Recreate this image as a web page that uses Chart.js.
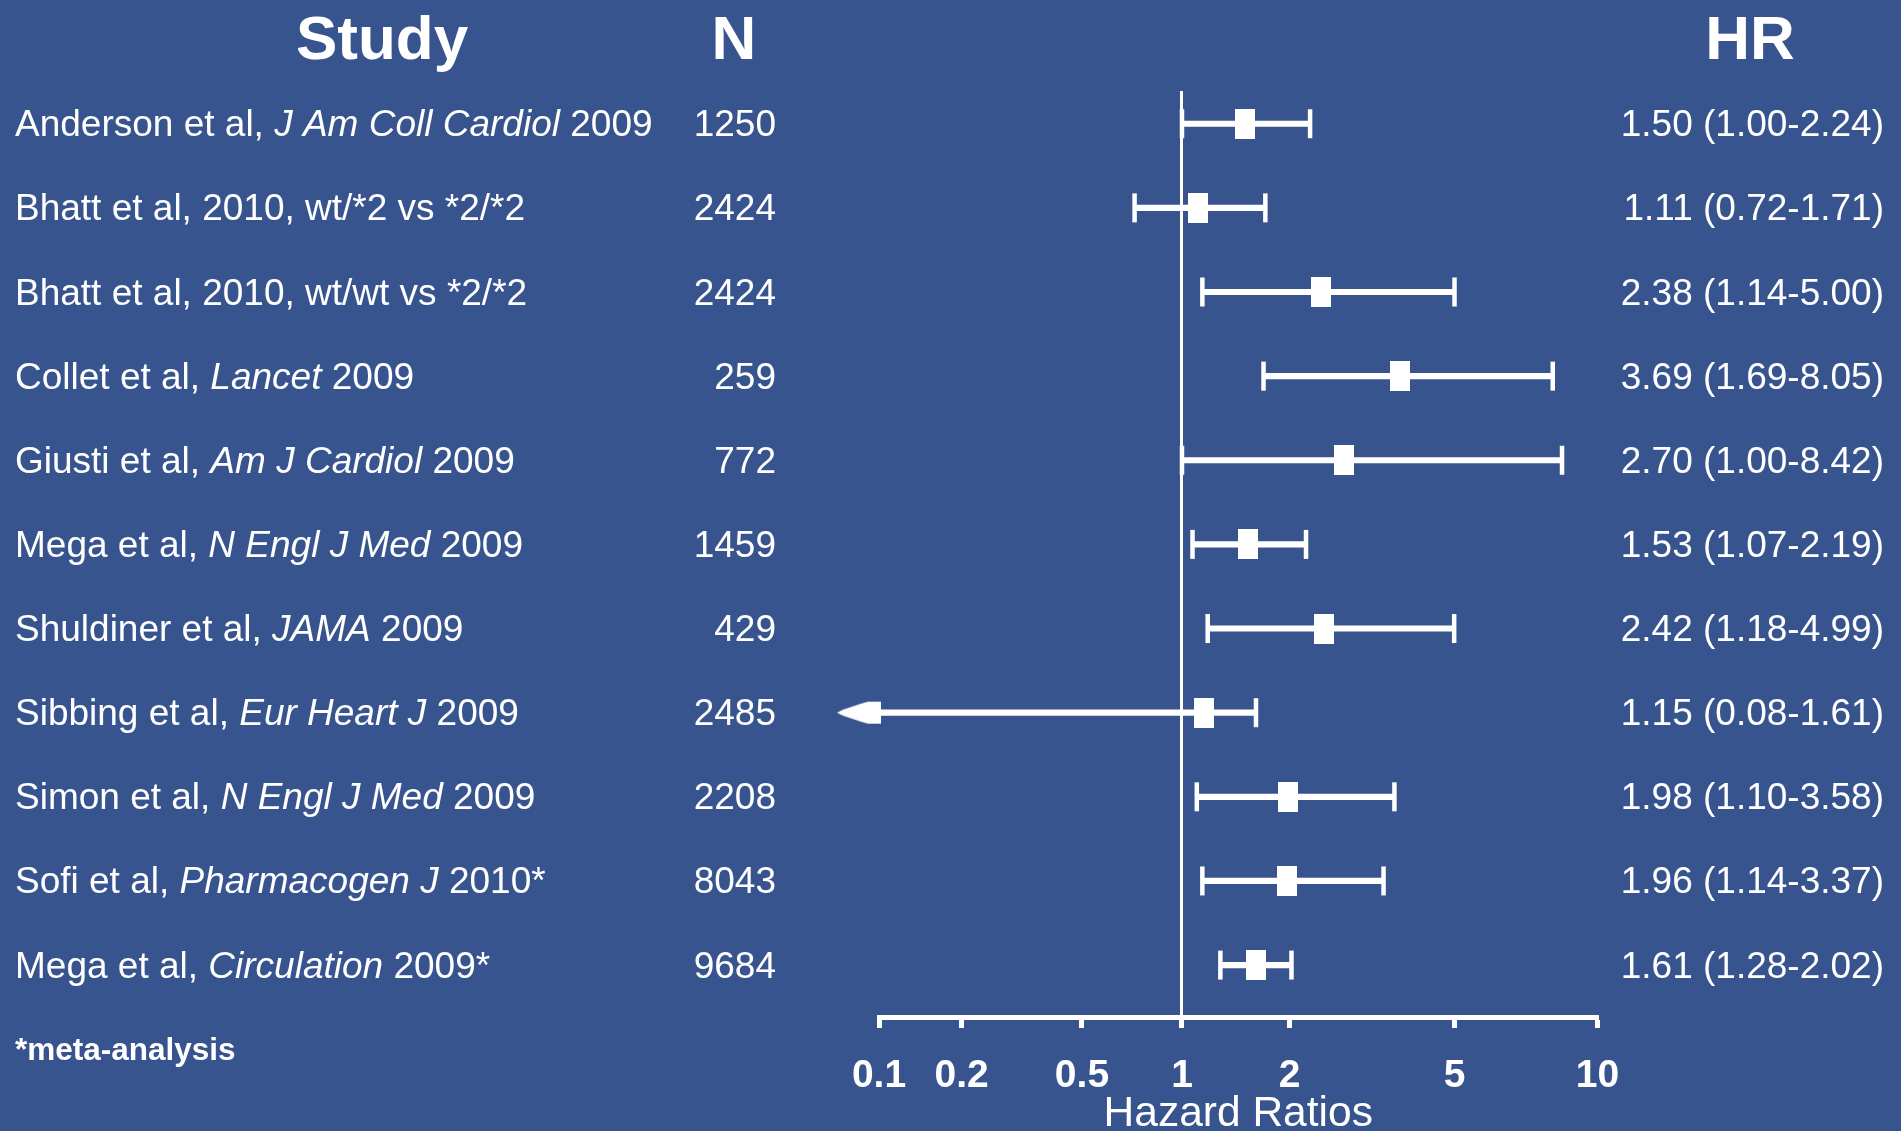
<!DOCTYPE html>
<html>
<head>
<meta charset="utf-8">
<script src="https://cdn.jsdelivr.net/npm/chart.js@4.4.1/dist/chart.umd.min.js"></script>
<style>
html, body { margin: 0; padding: 0; background: #38548f; overflow: hidden; }
canvas { display: block; }
</style>
</head>
<body>
<canvas id="forest" width="1901" height="1131"></canvas>
<script>
// ---------- DATA ----------
const studyPrefix = [
  'Anderson et al, ',
  'Bhatt et al, 2010, wt/*2 vs *2/*2',
  'Bhatt et al, 2010, wt/wt vs *2/*2',
  'Collet et al, ',
  'Giusti et al, ',
  'Mega et al, ',
  'Shuldiner et al, ',
  'Sibbing et al, ',
  'Simon et al, ',
  'Sofi et al, ',
  'Mega et al, '
];
const studyJournal = [
  'J Am Coll Cardiol', '', '', 'Lancet', 'Am J Cardiol', 'N Engl J Med',
  'JAMA', 'Eur Heart J', 'N Engl J Med', 'Pharmacogen J', 'Circulation'
];
const studySuffix = [
  ' 2009', '', '', ' 2009', ' 2009', ' 2009', ' 2009', ' 2009', ' 2009', ' 2010*', ' 2009*'
];
const sampleSizes = ['1250', '2424', '2424', '259', '772', '1459', '429', '2485', '2208', '8043', '9684'];
const hazardRatios = [1.50, 1.11, 2.38, 3.69, 2.70, 1.53, 2.42, 1.15, 1.98, 1.96, 1.61];
const ciLower      = [1.00, 0.72, 1.14, 1.69, 1.00, 1.07, 1.18, 0.08, 1.10, 1.14, 1.28];
const ciUpper      = [2.24, 1.71, 5.00, 8.05, 8.42, 2.19, 4.99, 1.61, 3.58, 3.37, 2.02];
const tickValues = [0.1, 0.2, 0.5, 1, 2, 5, 10];
const tickLabels = ['0.1', '0.2', '0.5', '1', '2', '5', '10'];
const columnHeaders = ['Study', 'N', 'HR'];
const axisTitle = 'Hazard Ratios';
const footnote = '*meta-analysis';

// ---------- STYLE ----------
const BG = '#38548f';
const FG = '#ffffff';
const FAM = '"Liberation Sans", Arial, Helvetica, sans-serif';

// Logarithmic between the drawn ticks (the original axis spaces its ticks unevenly)
class PiecewiseLogScale extends Chart.LogarithmicScale {
  getPixelForValue(value) {
    const v = this.options.breakValues, f = this.options.breakFractions;
    if (value === undefined || value === null || isNaN(value) || value <= 0) return NaN;
    let i = 0;
    while (i < v.length - 2 && value > v[i + 1]) i++;
    const t = Math.log(value / v[i]) / Math.log(v[i + 1] / v[i]);
    return this.getPixelForDecimal(f[i] + t * (f[i + 1] - f[i]));
  }
  getValueForPixel(pixel) {
    const v = this.options.breakValues, f = this.options.breakFractions;
    const d = this.getDecimalForPixel(pixel);
    let i = 0;
    while (i < f.length - 2 && d > f[i + 1]) i++;
    const t = (d - f[i]) / (f[i + 1] - f[i]);
    return v[i] * Math.pow(v[i + 1] / v[i], t);
  }
}
PiecewiseLogScale.id = 'piecewiseLog';
PiecewiseLogScale.defaults = Object.assign({}, Chart.LogarithmicScale.defaults);
Chart.register(PiecewiseLogScale);

// Marker images
const markerImg = document.createElement('canvas');
markerImg.width = 20; markerImg.height = 30;
(function () { const c = markerImg.getContext('2d'); c.fillStyle = FG; c.fillRect(0, 0, 20, 30); })();

const arrowImg = document.createElement('canvas');
arrowImg.width = 88; arrowImg.height = 24;
(function () {
  const c = arrowImg.getContext('2d');
  c.fillStyle = FG;
  c.beginPath();
  c.moveTo(2, 12); c.lineTo(8, 9); c.lineTo(14, 7); c.lineTo(20, 5); c.lineTo(26, 3); c.lineTo(33, 1);
  c.lineTo(46, 1); c.lineTo(46, 23); c.lineTo(33, 23); c.lineTo(26, 21); c.lineTo(20, 19); c.lineTo(14, 17); c.lineTo(8, 15);
  c.closePath(); c.fill();
})();

const axisMin = tickValues[0];
const rows = hazardRatios.map((_, i) => i);

const textPlugin = {
  id: 'forestText',
  beforeDraw(chart) {
    const ctx = chart.ctx;
    ctx.save();
    ctx.fillStyle = BG;
    ctx.fillRect(0, 0, chart.width, chart.height);
    ctx.restore();
  },
  afterDraw(chart) {
    const ctx = chart.ctx;
    const ys = chart.scales.y;
    ctx.save();
    ctx.fillStyle = FG;
    ctx.textBaseline = 'alphabetic';

    // column headers
    ctx.font = 'bold 62px ' + FAM;
    ctx.textAlign = 'center';
    ctx.fillText(columnHeaders[0], 382, 59);
    ctx.fillText(columnHeaders[1], 734, 59);
    ctx.fillText(columnHeaders[2], 1750, 59);

    // study rows
    rows.forEach(i => {
      const py = ys.getPixelForValue(i) + 12.5;
      ctx.textAlign = 'left';
      let px = 15;
      ctx.font = '37px ' + FAM;
      ctx.fillText(studyPrefix[i], px, py);
      px += ctx.measureText(studyPrefix[i]).width;
      if (studyJournal[i]) {
        ctx.font = 'italic 37px ' + FAM;
        ctx.fillText(studyJournal[i], px, py);
        px += ctx.measureText(studyJournal[i]).width;
      }
      if (studySuffix[i]) {
        ctx.font = '37px ' + FAM;
        ctx.fillText(studySuffix[i], px, py);
      }
      ctx.font = '37px ' + FAM;
      ctx.textAlign = 'right';
      ctx.fillText(sampleSizes[i], 776, py);
      const hrText = hazardRatios[i].toFixed(2) + ' (' + ciLower[i].toFixed(2) + '-' + ciUpper[i].toFixed(2) + ')';
      ctx.fillText(hrText, 1884, py);
    });

    // footnote
    ctx.textAlign = 'left';
    ctx.font = 'bold 31.5px ' + FAM;
    ctx.fillText(footnote, 15, 1060);
    ctx.restore();
  }
};

new Chart(document.getElementById('forest'), {
  type: 'bar',
  data: {
    datasets: [
      {
        type: 'line', label: 'HR',
        data: rows.map(i => ({ x: hazardRatios[i], y: i })),
        showLine: false, pointStyle: markerImg, pointRadius: 15, pointHoverRadius: 15,
        order: 0, clip: false
      },
      {
        type: 'line', label: 'Upper CI',
        data: rows.map(i => ({ x: ciUpper[i], y: i })),
        showLine: false, pointStyle: 'line', pointRotation: 90, pointRadius: 14.5, pointHoverRadius: 14.5,
        pointBorderWidth: 4.5, pointHoverBorderWidth: 4.5, pointBorderColor: FG, pointBackgroundColor: FG,
        order: 1, clip: false
      },
      {
        type: 'line', label: 'Lower CI',
        data: rows.filter(i => ciLower[i] >= axisMin).map(i => ({ x: ciLower[i], y: i })),
        showLine: false, pointStyle: 'line', pointRotation: 90, pointRadius: 14.5, pointHoverRadius: 14.5,
        pointBorderWidth: 4.5, pointHoverBorderWidth: 4.5, pointBorderColor: FG, pointBackgroundColor: FG,
        order: 1, clip: false
      },
      {
        type: 'line', label: 'Lower CI beyond axis',
        data: rows.filter(i => ciLower[i] < axisMin).map(i => ({ x: axisMin, y: i })),
        showLine: false, pointStyle: arrowImg, pointRadius: 15, pointHoverRadius: 15,
        order: 1, clip: false
      },
      {
        type: 'bar', label: 'CI',
        data: rows.map(i => ({ x: [Math.max(ciLower[i], axisMin), ciUpper[i]], y: i })),
        backgroundColor: FG, borderWidth: 0, barThickness: 5.5,
        order: 2, clip: false
      }
    ]
  },
  options: {
    indexAxis: 'y',
    responsive: false,
    animation: false,
    events: [],
    layout: { padding: { left: 879, right: 303.5, top: 91, bottom: 0 } },
    plugins: { legend: { display: false }, tooltip: { enabled: false } },
    scales: {
      x: {
        type: 'piecewiseLog',
        min: 0.1, max: 10,
        breakValues: tickValues,
        breakFractions: [0, 0.1151, 0.2825, 0.4217, 0.5716, 0.8010, 1],
        afterBuildTicks: s => { s.ticks = tickValues.map(v => ({ value: v })); },
        afterFit: s => { s.height = 114; },
        ticks: {
          autoSkip: false, maxRotation: 0, minRotation: 0, color: FG, padding: 25,
          font: { family: FAM, size: 39, weight: 'bold' },
          callback: (v, i) => tickLabels[i]
        },
        grid: {
          drawOnChartArea: true,
          color: c => (c.tick && c.tick.value === 1) ? FG : 'rgba(0,0,0,0)',
          lineWidth: 3,
          drawTicks: true, tickLength: 11, tickWidth: 5, tickColor: FG
        },
        border: { display: true, color: FG, width: 5 },
        title: {
          display: true, text: axisTitle, color: FG,
          font: { family: FAM, size: 42.5, lineHeight: 0.9 },
          padding: { top: 0, bottom: -2 }
        }
      },
      y: {
        type: 'linear', reverse: true, min: -0.389, max: 10.617, display: false,
        offset: false, grace: 0, bounds: 'data', grid: { offset: false }
      }
    }
  },
  plugins: [textPlugin]
});
</script>
</body>
</html>
